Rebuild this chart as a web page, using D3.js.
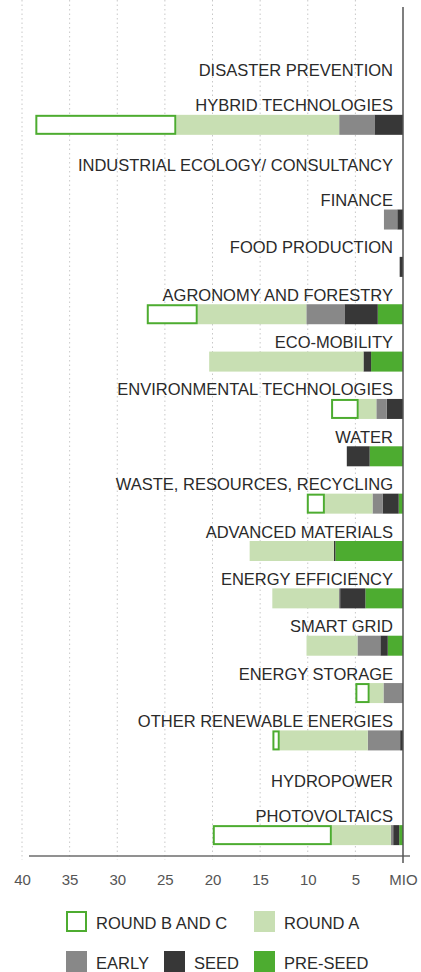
<!DOCTYPE html>
<html>
<head>
<meta charset="utf-8">
<script src="https://cdn.jsdelivr.net/npm/d3@7"></script>
<style>
  html, body { margin: 0; padding: 0; background: #fff; }
  svg { display: block; }
  text { font-family: "Liberation Sans", Arial, Helvetica, sans-serif; }
</style>
</head>
<body>
<script>
// ---- DATA (million) ----
const categories = [
  "DISASTER PREVENTION",
  "HYBRID TECHNOLOGIES",
  "INDUSTRIAL ECOLOGY/ CONSULTANCY",
  "FINANCE",
  "FOOD PRODUCTION",
  "AGRONOMY AND FORESTRY",
  "ECO-MOBILITY",
  "ENVIRONMENTAL TECHNOLOGIES",
  "WATER",
  "WASTE, RESOURCES, RECYCLING",
  "ADVANCED MATERIALS",
  "ENERGY EFFICIENCY",
  "SMART GRID",
  "ENERGY STORAGE",
  "OTHER RENEWABLE ENERGIES",
  "HYDROPOWER",
  "PHOTOVOLTAICS"
];
const preSeed = [0, 0,    0, 0,   0,    2.65, 3.35, 0,    3.5, 0.45, 7.1,  3.95, 1.6,  0,   0,    0, 0.4];
const seed    = [0, 3.0,  0, 0.6, 0.35, 3.5,  0.8,  1.7,  2.4, 1.7,  0.15, 2.65, 0.78, 0,   0.3,  0, 0.63];
const early   = [0, 3.7,  0, 1.4, 0,    4.0,  0,    1.1,  0,   1.05, 0,    0.12, 2.4,  2.05,3.4,  0, 0.24];
const roundA  = [0, 17.1, 0, 0,   0,    11.4, 16.2, 1.85, 0,   5.0,  8.85, 7.0,  5.35, 1.45,9.24, 0, 6.2];
const roundBC = [0, 14.8, 0, 0,   0,    5.35, 0,    2.9,  0,   1.9,  0,    0,    0,    1.5, 0.77, 0, 12.5];

const seriesKeys   = ["preSeed", "seed", "early", "roundA", "roundBC"];
const seriesLabels = ["PRE-SEED", "SEED", "EARLY", "ROUND A", "ROUND B AND C"];
const xTickValues  = [0, 5, 10, 15, 20, 25, 30, 35, 40];
const xTickLabels  = ["MIO", "5", "10", "15", "20", "25", "30", "35", "40"];

// ---- STYLE ----
const colors = {
  preSeed: "#4dac30",
  seed: "#373737",
  early: "#888888",
  roundA: "#c8dfb3",
  roundBC: "#ffffff"
};
const outlineColor = "#4dac30";

const W = 421, H = 972;
const svg = d3.select("body").append("svg").attr("width", W).attr("height", H);

const x = d3.scaleLinear().domain([0, 40]).range([403, 22]);
const y = d3.scaleBand().domain(categories).range([53.8, 858.8]).padding(0);
const barH = 20;
const yc = c => y(c) + y.bandwidth() / 2;

// gridlines
svg.append("g").selectAll("line")
  .data(xTickValues.filter(d => d > 0))
  .join("line")
  .attr("x1", d => x(d)).attr("x2", d => x(d))
  .attr("y1", 0).attr("y2", 860)
  .attr("stroke", "#c8c8c8").attr("stroke-width", 1)
  .attr("stroke-dasharray", "1.5,3");

// stacked bars
const rows = categories.map((c, i) => ({
  cat: c, preSeed: preSeed[i], seed: seed[i], early: early[i], roundA: roundA[i], roundBC: roundBC[i]
}));
const stacked = d3.stack().keys(seriesKeys)(rows);

const gBars = svg.append("g");
stacked.forEach(s => {
  const key = s.key;
  gBars.append("g").selectAll("rect")
    .data(s.filter(d => d[1] - d[0] > 0))
    .join("rect")
    .each(function(d) {
      const x0 = x(d[1]), x1 = x(d[0]);
      const r = d3.select(this);
      if (key === "roundBC") {
        r.attr("x", x0 + 1).attr("width", Math.max(0, x1 - x0 - 2))
         .attr("y", yc(d.data.cat) - barH / 2 + 1).attr("height", barH - 2)
         .attr("fill", "#fff").attr("stroke", outlineColor).attr("stroke-width", 2);
      } else {
        r.attr("x", x0).attr("width", x1 - x0)
         .attr("y", yc(d.data.cat) - barH / 2).attr("height", barH)
         .attr("fill", colors[key]);
      }
    });
});

// category labels
const totals = rows.map(r => seriesKeys.reduce((a, k) => a + r[k], 0));
svg.append("g").selectAll("text")
  .data(categories)
  .join("text")
  .attr("x", 393)
  .attr("y", (c, i) => totals[i] > 0 ? yc(c) - barH / 2 - 3.5 : yc(c) - 1)
  .attr("text-anchor", "end")
  .attr("font-size", 16.5)
  .attr("fill", "#2a2a2a")
  .text(c => c);

// x axis
const axis = d3.axisBottom(x)
  .tickValues(xTickValues)
  .tickFormat((d, i) => xTickLabels[i])
  .tickSizeInner(0).tickSizeOuter(0).tickPadding(18);
const gAxis = svg.append("g").attr("transform", "translate(0,856)").call(axis);
gAxis.select(".domain").remove();
gAxis.selectAll("text").attr("font-size", 15).attr("fill", "#555")
  .attr("font-family", "'Liberation Sans', Arial, sans-serif");

svg.append("line").attr("x1", 29).attr("x2", 410).attr("y1", 856).attr("y2", 856)
  .attr("stroke", "#6d6d6d").attr("stroke-width", 1.5);
svg.append("line").attr("x1", 403).attr("x2", 403).attr("y1", 7).attr("y2", 863)
  .attr("stroke", "#555").attr("stroke-width", 1.5);

// legend
const legendRows = [
  [{ key: "roundBC", col: 0 }, { key: "roundA", col: 2 }],
  [{ key: "early", col: 0 }, { key: "seed", col: 1 }, { key: "preSeed", col: 2 }]
];
const legendCols = [66, 164, 254];
const legendRowY = [911, 951];
legendRows.forEach((row, ri) => {
  const g = svg.append("g");
  row.forEach(item => {
    const lx = legendCols[item.col], ly = legendRowY[ri];
    if (item.key === "roundBC") {
      g.append("rect").attr("x", lx + 1).attr("y", ly + 1).attr("width", 19).attr("height", 19)
        .attr("fill", "#fff").attr("stroke", outlineColor).attr("stroke-width", 2);
    } else {
      g.append("rect").attr("x", lx).attr("y", ly).attr("width", 21).attr("height", 21)
        .attr("fill", colors[item.key]);
    }
    g.append("text").attr("x", lx + 30).attr("y", ly + 18)
      .attr("font-size", 16.5).attr("fill", "#2a2a2a")
      .text(seriesLabels[seriesKeys.indexOf(item.key)]);
  });
});
</script>
</body>
</html>
